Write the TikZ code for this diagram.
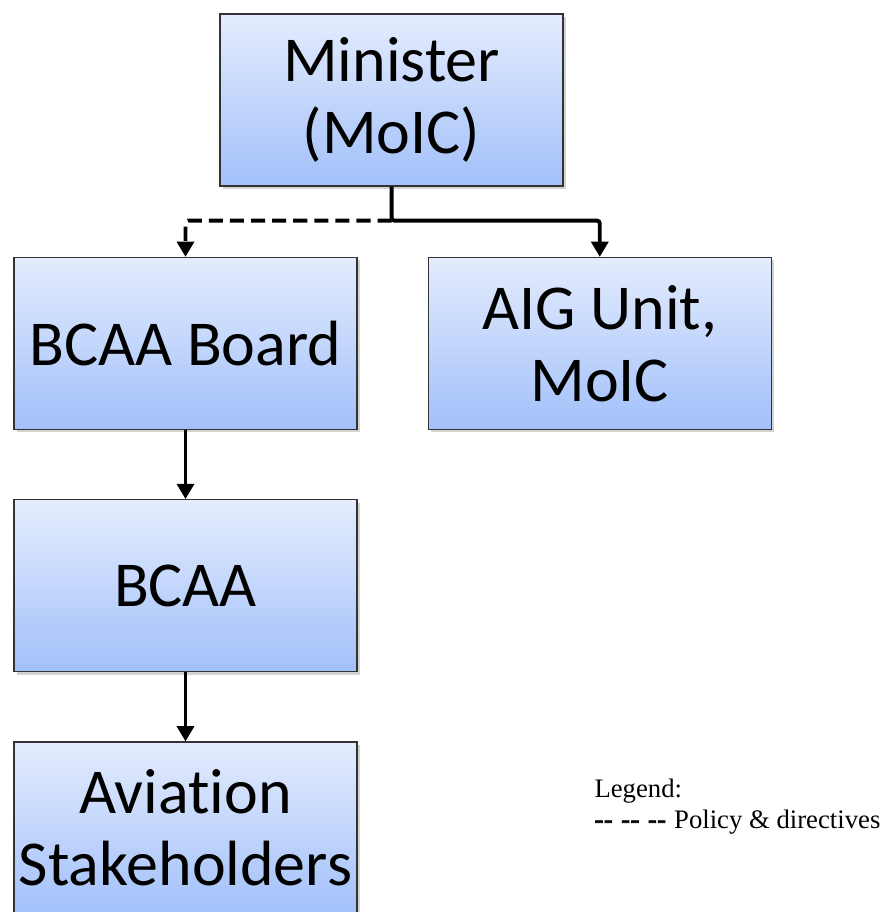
\documentclass[tikz,border=0pt]{standalone}
\usepackage{fontspec}
\setmainfont{Liberation Serif}
\newfontfamily\boxfont[Ligatures={NoCommon}]{Carlito}
\newfontfamily\dashfont[FakeBold=2.5]{Liberation Serif}
\usetikzlibrary{positioning, calc, shadows, arrows.meta}

\definecolor{boxtop}{HTML}{E4ECFD}
\definecolor{boxbottom}{HTML}{A2C0FA}

\begin{document}
\begin{tikzpicture}[thick]
    \useasboundingbox (0,0) rectangle (22,-22.8);
    \tikzset{
        orgbox/.style={draw=black!80, line width=0.9pt, rectangle, minimum width=8.575cm, minimum height=4.3cm,
            top color=boxtop, bottom color=boxbottom, align=center, inner sep=0pt,
            drop shadow={shadow xshift=2pt, shadow yshift=-2pt, opacity=0.35},
            font=\boxfont\fontsize{45.5}{51}\selectfont},
        link/.style={line width=2.8pt, rounded corners=2pt, -{Triangle[length=3.8mm, width=4.2mm]}}
    }
    % Nodes
    \node[orgbox] (minister) at (9.79,-2.5) {Minister\\(MoIC)};
    \node[orgbox] (board) at (4.6375,-8.5875) {BCAA Board};
    \node[orgbox, right=1.75cm of board] (aig) {AIG Unit,\\MoIC};
    \node[orgbox, below=1.725cm of board] (bcaa) {BCAA};
    \node[orgbox, below=1.725cm of bcaa] (stake) {Aviation\\Stakeholders};

    % Arrows
    \coordinate (split) at ($(minister.south)+(0,-0.85)$);
    \draw[link] (minister.south) -- (split) -| (aig.north);
    \draw[link, dash pattern=on 10pt off 5pt] (split) -| (board.north);
    \draw[link] (board) -- (bcaa);
    \draw[link] (bcaa) -- (stake);

    % Legend
    \node[anchor=base west, inner sep=0pt, font=\fontsize{19}{22}\selectfont] (legend) at (14.85,-19.925) {Legend:};
    \node[anchor=base west, inner sep=0pt, font=\fontsize{19}{22}\selectfont] (policy) at ($(legend.base west)+(0,-0.775)$)
        {{\dashfont -\kern0.3pt-\hspace{6pt}-\kern0.3pt-\hspace{6pt}-\kern0.3pt-}\hspace{1pt} Policy \& directives};
\end{tikzpicture}
\end{document}
